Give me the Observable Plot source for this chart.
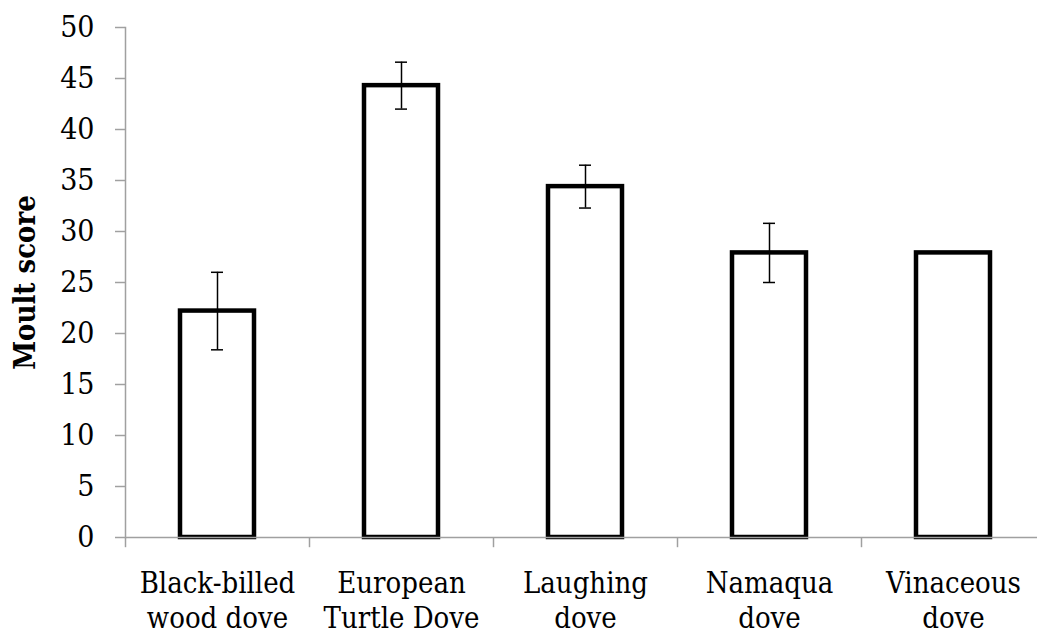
<!DOCTYPE html>
<html><head><meta charset="utf-8">
<script src="https://cdn.jsdelivr.net/npm/d3@7"></script>
<script src="https://cdn.jsdelivr.net/npm/@observablehq/plot@0.6"></script>
<style>body{margin:0;background:#fff}</style>
</head><body><div id="chart"></div>
<script>
const categories = ["Black-billed\nwood dove", "European\nTurtle Dove", "Laughing\ndove", "Namaqua\ndove", "Vinaceous\ndove"];
const values = [22.2, 44.3, 34.4, 27.9, 27.9];
const errors = [3.8, 2.3, 2.1, 2.9, 0];
const yTicks = [0, 5, 10, 15, 20, 25, 30, 35, 40, 45, 50];
const yLabel = "Moult score";

const data = categories.map((c, i) => ({c, v: values[i], e: errors[i]}));
const errData = data.filter(d => d.e > 0);
const font = "'DejaVu Serif Condensed','DejaVu Serif',serif";
const gray = "#a0a0a0";

const chart = Plot.plot({
  width: 1037, height: 637,
  marginLeft: 125, marginRight: 0, marginTop: 27, marginBottom: 100,
  style: {fontFamily: font, background: "white", color: "black"},
  x: {domain: categories, range: [125, 1045], paddingInner: 0.6, paddingOuter: 0.3, axis: null},
  y: {domain: [0, 50], axis: null},
  marks: [
    Plot.frame({anchor: "left", stroke: gray, strokeWidth: 1.5}),
    Plot.axisY({ticks: yTicks, tickSize: 10, tickPadding: 21, stroke: gray, strokeWidth: 1.5, fill: "black", fontSize: 30, label: null}),
    Plot.axisX({tickSize: 0, tickPadding: 31, fontSize: 29, lineHeight: 1.2, label: null, fill: "black"}),
    Plot.ruleX(categories, {x: d => d, y1: 0, y2: -1, dx: -92, stroke: gray, strokeWidth: 1.5}),
    Plot.barY(data, {x: "c", y: "v", fill: "white", stroke: "black", strokeWidth: 4.5}),
    Plot.ruleY([0], {stroke: gray, strokeWidth: 1.5}),
    Plot.ruleX(errData, {x: "c", y1: d => d.v - d.e, y2: d => d.v + d.e, stroke: "black", strokeWidth: 1.5}),
    Plot.tickY(errData, {x: "c", y: d => d.v + d.e, insetLeft: 31, insetRight: 31, stroke: "black", strokeWidth: 1.5}),
    Plot.tickY(errData, {x: "c", y: d => d.v - d.e, insetLeft: 31, insetRight: 31, stroke: "black", strokeWidth: 1.5}),
    Plot.text([yLabel], {frameAnchor: "left", text: d => d, rotate: -90, dx: -91, textAnchor: "middle", lineAnchor: "bottom", fontWeight: "bold", fontSize: 29, fill: "black"})
  ]
});
document.getElementById("chart").appendChild(chart);
</script>
</body></html>
